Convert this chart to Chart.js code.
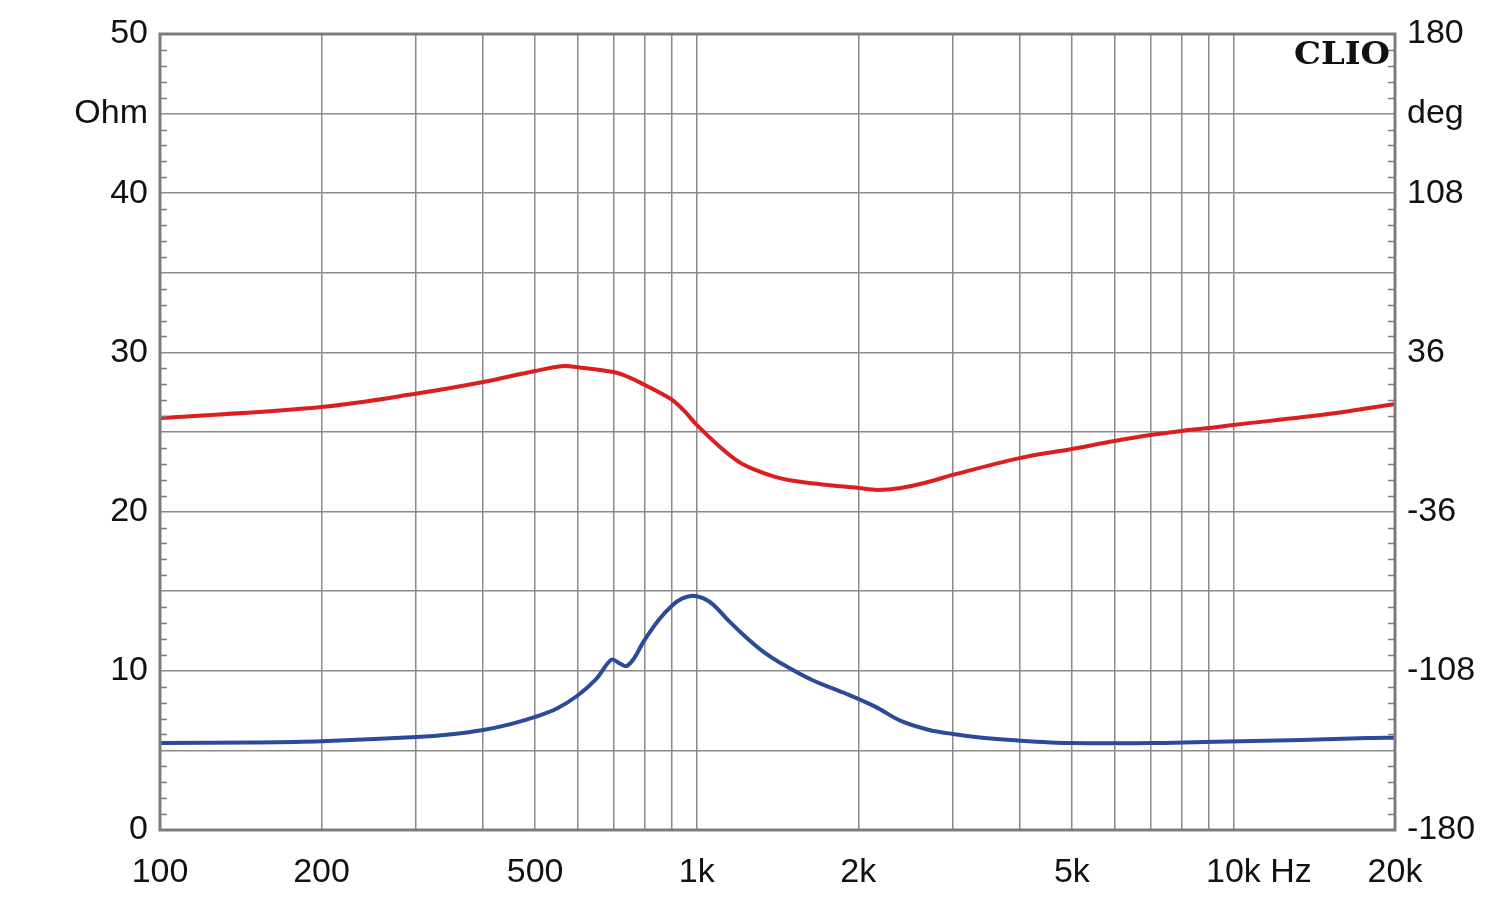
<!DOCTYPE html>
<html>
<head>
<meta charset="utf-8">
<script src="https://cdn.jsdelivr.net/npm/chart.js@4.4.1/dist/chart.umd.min.js"></script>
<style>
  html, body { margin: 0; padding: 0; background: #fff; }
  #wrap { width: 1500px; height: 907px; }
</style>
</head>
<body>
<div id="wrap"><canvas id="clio_chart"></canvas></div>
<script>
// frequency axis
const xGridValues = [100, 200, 300, 400, 500, 600, 700, 800, 900, 1000,
      2000, 3000, 4000, 5000, 6000, 7000, 8000, 9000, 10000, 20000];
const xTickValues = [100, 200, 500, 1000, 2000, 5000, 10000, 20000];
const xTickLabels = ['100', '200', '500', '1k', '2k', '5k', '10k', '20k'];

// left axis (Ohm) and right axis (deg)
const ohmTickValues = [0, 10, 20, 30, 40, 45, 50];
const ohmTickLabels = ['0', '10', '20', '30', '40', 'Ohm', '50'];
const degTickValues = [-180, -108, -36, 36, 108, 144, 180];
const degTickLabels = ['-180', '-108', '-36', '36', '108', 'deg', '180'];

// impedance (blue, Ohm)
const impFreq = [100, 150, 200, 300, 350, 400, 450, 500, 550, 600, 650, 694, 720, 740, 765, 795,
      850, 900, 940, 985, 1030, 1075, 1150, 1240, 1330, 1430, 1640, 1880, 2150, 2400, 2700,
      3000, 3400, 3850, 5000, 7000, 8800, 13400, 17800, 20000];
const impOhm = [5.46, 5.5, 5.58, 5.84, 6.02, 6.28, 6.65, 7.1, 7.65, 8.45, 9.5, 10.7, 10.45, 10.3, 10.8, 11.8,
      13.2, 14.1, 14.55, 14.72, 14.55, 14.13, 13.1, 12.06, 11.2, 10.5, 9.42, 8.62, 7.75, 6.85, 6.3,
      6.03, 5.8, 5.65, 5.46, 5.46, 5.53, 5.65, 5.78, 5.8];

// phase (red, deg)
const phaseFreq = [100, 200, 305, 400, 500, 565, 600, 700, 750, 800, 850, 900, 950, 1000, 1100,
      1200, 1300, 1400, 1500, 1700, 2000, 2170, 2400, 2700, 3000, 4000, 5000, 6000, 7000, 8000,
      9000, 10000, 15000, 20000];
const phaseDeg = [6.3, 11.3, 17.6, 22.6, 27.6, 29.8, 29.3, 27.1, 24.6, 21.3, 18.0, 14.5, 9.3, 3.2, -6.3,
      -13.6, -17.6, -20.3, -21.9, -23.6, -25.3, -26.2, -25.3, -22.6, -19.4, -11.8, -7.7, -4.1, -1.4, 0.5,
      1.8, 3.2, 8.1, 12.7];

const labelFont = { family: '"Liberation Sans", Arial, sans-serif', size: 34 };
const gridColor = '#8a8a8a';
const frameColor = '#7c7c7c';

const framePlugin = {
      id: 'frame',
      afterDatasetsDraw: function (chart)
      {
            const ctx = chart.ctx;
            const area = chart.chartArea;
            const y = chart.scales.y;
            ctx.save();
            // minor ticks every 1 Ohm on both sides
            ctx.strokeStyle = frameColor;
            ctx.lineWidth = 1.5;
            for (let v = 1; v < 50; v++)
            {
                  if (v % 5 === 0) continue;
                  const py = Math.round(y.getPixelForValue(v)) + 0.5;
                  ctx.beginPath();
                  ctx.moveTo(area.left, py);
                  ctx.lineTo(area.left + 7, py);
                  ctx.moveTo(area.right - 7, py);
                  ctx.lineTo(area.right, py);
                  ctx.stroke();
            }
            ctx.lineWidth = 3;
            ctx.strokeRect(area.left, area.top, area.right - area.left, area.bottom - area.top);

            // CLIO mark, stretched to the reference width
            ctx.fillStyle = '#111';
            ctx.font = 'bold 31px "DejaVu Serif", "Liberation Serif", serif';
            const w = ctx.measureText('CLIO').width;
            ctx.save();
            ctx.translate(area.right - 5, area.top + 30);
            ctx.scale(96 / w, 1);
            ctx.textAlign = 'right';
            ctx.textBaseline = 'alphabetic';
            ctx.fillText('CLIO', 0, 0);
            ctx.restore();

            // unit after 10k, on the same line as the tick label
            const x = chart.scales.x;
            ctx.font = labelFont.size + 'px ' + labelFont.family;
            const item = x.getLabelItems().find(it => it.label === '10k');
            if (item)
            {
                  const px = item.options.translation[0] + ctx.measureText('10k').width / 2;
                  ctx.textAlign = 'left';
                  ctx.textBaseline = item.options.textBaseline;
                  ctx.fillText(' Hz', px, item.options.translation[1] + (item.textOffset || 0));
            }
            ctx.restore();
      }
};

const config = {
      type: 'line',
      data: {
            datasets: [{
                  label: 'Impedance',
                  data: impFreq.map((f, i) => ({ x: f, y: impOhm[i] })),
                  yAxisID: 'y',
                  borderColor: '#2a4a9a',
                  borderWidth: 4,
                  pointRadius: 0,
                  tension: 0.35
            }, {
                  label: 'Phase',
                  data: phaseFreq.map((f, i) => ({ x: f, y: phaseDeg[i] })),
                  yAxisID: 'y2',
                  borderColor: '#dc1e1e',
                  borderWidth: 4,
                  pointRadius: 0,
                  tension: 0.35
            }]
      },
      options: {
            responsive: true,
            maintainAspectRatio: false,
            animation: false,
            layout: { padding: { top: 34, left: 0, right: 0, bottom: 0 } },
            plugins: {
                  legend: { display: false },
                  tooltip: { enabled: false }
            },
            scales: {
                  x: {
                        type: 'logarithmic',
                        min: 100,
                        max: 20000,
                        afterBuildTicks: function (scale)
                        {
                              scale.ticks = xGridValues.map(v => ({ value: v }));
                        },
                        afterFit: function (scale) { scale.height = 77; },
                        grid: { color: gridColor, lineWidth: 1.5, drawTicks: false },
                        border: { display: false },
                        ticks: {
                              autoSkip: false,
                              maxRotation: 0,
                              padding: 22,
                              color: '#111',
                              font: labelFont,
                              callback: function (value)
                              {
                                    const i = xTickValues.indexOf(value);
                                    return i >= 0 ? xTickLabels[i] : '';
                              }
                        }
                  },
                  y: {
                        type: 'linear',
                        position: 'left',
                        min: 0,
                        max: 50,
                        afterBuildTicks: function (scale)
                        {
                              const t = [];
                              for (let v = 0; v <= 50; v += 5) t.push({ value: v });
                              scale.ticks = t;
                        },
                        afterFit: function (scale) { scale.width = 160; },
                        grid: { color: gridColor, lineWidth: 1.5, drawTicks: false },
                        border: { display: false },
                        ticks: {
                              padding: 12,
                              color: '#111',
                              font: labelFont,
                              callback: function (value)
                              {
                                    const i = ohmTickValues.indexOf(value);
                                    return i >= 0 ? ohmTickLabels[i] : '';
                              }
                        }
                  },
                  y2: {
                        type: 'linear',
                        position: 'right',
                        min: -180,
                        max: 180,
                        afterBuildTicks: function (scale)
                        {
                              scale.ticks = degTickValues.map(v => ({ value: v }));
                        },
                        afterFit: function (scale) { scale.width = 105; },
                        grid: { display: false, drawTicks: false },
                        border: { display: false },
                        ticks: {
                              padding: 12,
                              color: '#111',
                              font: labelFont,
                              callback: function (value)
                              {
                                    const i = degTickValues.indexOf(value);
                                    return i >= 0 ? degTickLabels[i] : '';
                              }
                        }
                  }
            }
      },
      plugins: [framePlugin]
};

new Chart(document.getElementById('clio_chart'), config);
</script>
</body>
</html>
